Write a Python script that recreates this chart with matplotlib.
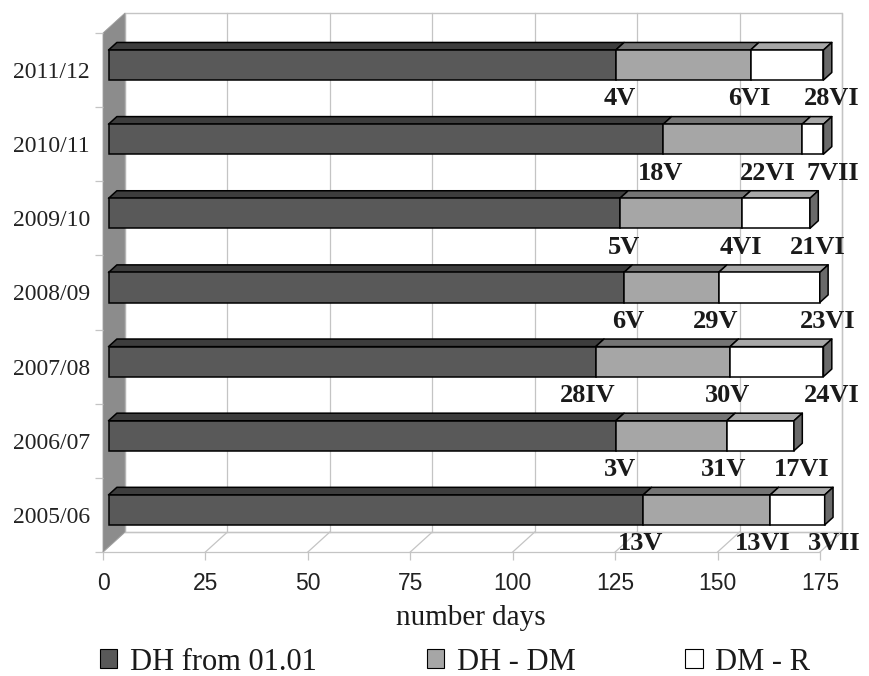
import matplotlib
matplotlib.use('Agg')
import matplotlib.pyplot as plt
from matplotlib.patches import Polygon, Rectangle, Patch

# ---------------- data ----------------
seasons = ['2005/06', '2006/07', '2007/08', '2008/09', '2009/10', '2010/11', '2011/12']
dh_from_jan1 = [130.5, 123.8, 118.9, 125.8, 124.8, 135.4, 123.8]
dh_to_dm = [31.0, 27.1, 32.8, 23.1, 29.9, 33.9, 32.9]
dm_to_r = [13.3, 16.4, 22.8, 24.7, 16.5, 5.2, 17.8]
date_dh = ['13V', '3V', '28IV', '6V', '5V', '18V', '4V']
date_dm = ['13VI', '31V', '30V', '29V', '4VI', '22VI', '6VI']
date_r = ['3VII', '17VI', '24VI', '23VI', '21VI', '7VII', '28VI']
series_names = ['DH from 01.01', 'DH - DM', 'DM - R']
x_ticks = [0, 25, 50, 75, 100, 125, 150, 175]
x_label = 'number days'

# ---------------- style ----------------
front_cols = ['#595959', '#a6a6a6', '#ffffff']
top_cols = ['#3d3d3d', '#747474', '#a8a8a8']
side_col = '#6a6a6a'
grid_col = '#c4c4c4'
wall_col = '#8c8c8c'
serif = ['Liberation Serif', 'DejaVu Serif']
sans = ['Liberation Sans', 'DejaVu Sans']

W, H = 869, 676
fig = plt.figure(figsize=(W / 100, H / 100), dpi=100)
L, R, B, T = 103, 820, 552, 33
ax = fig.add_axes([L / W, 1 - B / H, (R - L) / W, (B - T) / H])
xmax = x_ticks[-1]
n = len(seasons)
ax.set_xlim(0, xmax)
ax.set_ylim(-0.5, n - 0.5)
pxd = (R - L) / xmax
pxc = (B - T) / n
DX = 22 / pxd
DY = 20 / pxc
y0, y1 = -0.5, n - 0.5

# back wall
ax.add_patch(Rectangle((DX, y0 + DY), xmax, n, facecolor='white', edgecolor=grid_col,
                       lw=1.0, clip_on=False, zorder=0))
for t in x_ticks:
    ax.plot([t + DX, t + DX], [y0 + DY, y1 + DY], color=grid_col, lw=0.9, clip_on=False, zorder=0.5)
    ax.plot([t, t + DX], [y0, y0 + DY], color=grid_col, lw=0.9, clip_on=False, zorder=0.5)
ax.plot([0, xmax], [y0, y0], color=grid_col, lw=0.9, clip_on=False, zorder=0.5)
ax.plot([DX, xmax + DX], [y0 + DY, y0 + DY], color=grid_col, lw=0.9, clip_on=False, zorder=0.5)
# left wall
ax.add_patch(Polygon([(0, y0), (DX, y0 + DY), (DX, y1 + DY), (0, y1)], closed=True,
                     facecolor=wall_col, edgecolor='#a0a0a0', lw=0.6, clip_on=False, zorder=1))

# bars
f0, f1 = 0.25, 0.63
h = 0.405
ddx, ddy = (f1 - f0) * DX, (f1 - f0) * DY
for i in range(n):
    segs = [dh_from_jan1[i], dh_to_dm[i], dm_to_r[i]]
    start = 0.0
    yb = i - h / 2 + f0 * DY
    yt = i + h / 2 + f0 * DY
    for k, w in enumerate(segs):
        xa = start + f0 * DX
        xb = start + w + f0 * DX
        ax.add_patch(Polygon([(xa, yt), (xb, yt), (xb + ddx, yt + ddy), (xa + ddx, yt + ddy)],
                             closed=True, facecolor=top_cols[k], edgecolor='black', lw=1.1,
                             joinstyle='round', clip_on=False, zorder=3))
        ax.add_patch(Rectangle((xa, yb), w, yt - yb, facecolor=front_cols[k], edgecolor='black',
                               lw=1.1, clip_on=False, zorder=3))
        start += w
    xe = start + f0 * DX
    ax.add_patch(Polygon([(xe, yb), (xe, yt), (xe + ddx, yt + ddy), (xe + ddx, yb + ddy)],
                         closed=True, facecolor=side_col, edgecolor='black', lw=1.1,
                         joinstyle='round', clip_on=False, zorder=3))

    # date labels
    e1 = segs[0]
    e2 = segs[0] + segs[1]
    e3 = start
    ly = i - 0.39
    r3 = e3 + 10.1
    r2 = min(e2 + 6.2, r3 - 15.5)
    r1 = e1 + 6.2
    for xr, s in zip([r1, r2, r3], [date_dh[i], date_dm[i], date_r[i]]):
        ax.text(xr, ly, s, ha='right', va='center', fontsize=19, fontweight='bold',
                family=serif, color='#1a1a1a', zorder=4, clip_on=False)

# axes styling
for sp in ax.spines.values():
    sp.set_visible(False)
ax.set_xticks(x_ticks)
ax.set_xticklabels([str(t) for t in x_ticks], family=sans, fontsize=16.5, color='#222222')
ax.tick_params(axis='x', length=6, color=grid_col, width=0.9, pad=8.5)
ax.set_yticks(range(n))
ax.set_yticklabels(seasons, family=serif, fontsize=17, color='#222222')
ax.tick_params(axis='y', length=0, pad=9.5)
ax.set_yticks([k - 0.5 for k in range(n + 1)], minor=True)
ax.tick_params(axis='y', which='minor', length=5.5, color=grid_col, width=0.9)
ax.patch.set_visible(False)

ax.text((471 - L) / (R - L), (B - 625) / (B - T), x_label, transform=ax.transAxes,
        ha='center', va='baseline', fontsize=21, family=serif, color='#1a1a1a')

handles = [Patch(facecolor=c, edgecolor='black', lw=0.8) for c in front_cols]
leg = fig.legend(handles, series_names, ncol=3, loc='center',
                 bbox_to_anchor=(455 / W, 1 - 662 / H), frameon=False,
                 prop=dict(family=serif, size=22), handlelength=0.58, handleheight=0.6,
                 handletextpad=0.4, columnspacing=3.6, borderpad=0, borderaxespad=0)
for t in leg.get_texts():
    t.set_color('#1a1a1a')

fig.savefig('out.png', dpi=100)
